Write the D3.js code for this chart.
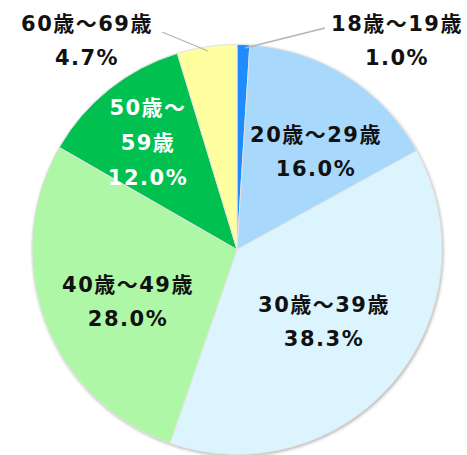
<!DOCTYPE html>
<html>
<head>
<meta charset="utf-8">
<script src="https://cdn.jsdelivr.net/npm/d3@7"></script>
<style>
html,body{margin:0;padding:0;background:#fff;}
svg{display:block;}
text{font-family:"DejaVu Sans","Noto Sans CJK JP",sans-serif;font-weight:bold;font-size:21px;letter-spacing:1.5px;}
</style>
</head>
<body>
<svg id="chart" width="467" height="455"></svg>
<script>
const categories = ["18歳～19歳","20歳～29歳","30歳～39歳","40歳～49歳","50歳～59歳","60歳～69歳"];
const values = [1.0, 16.0, 38.3, 28.0, 12.0, 4.7];
const valueLabels = ["1.0%","16.0%","38.3%","28.0%","12.0%","4.7%"];
const colors = ["#1e8cff","#a8d8fb","#dcf4fd","#aef7a6","#00c050","#ffff9f"];
const labelLines = [
  ["18歳～19歳","1.0%"],
  ["20歳～29歳","16.0%"],
  ["30歳～39歳","38.3%"],
  ["40歳～49歳","28.0%"],
  ["50歳～","59歳","12.0%"],
  ["60歳～69歳","4.7%"]
];
const textColors = ["#111","#111","#111","#111","#fff","#111"];

const svg = d3.select("#chart");
const cx = 237, cy = 249.5, R = 205;

const defs = svg.append("defs");
const f = defs.append("filter").attr("id","sh").attr("x","-10%").attr("y","-10%").attr("width","120%").attr("height","120%");
f.append("feGaussianBlur").attr("stdDeviation",1.5);

const g = svg.append("g").attr("transform",`translate(${cx},${cy})`);
g.append("circle").attr("r",R+0.5).attr("cx",1).attr("cy",1.5).attr("fill","#bbb").attr("filter","url(#sh)");

const pie = d3.pie().sort(null).value(d=>d)(values);
const arc = d3.arc().innerRadius(0).outerRadius(R);
g.selectAll("path.slice").data(pie).join("path")
  .attr("class","slice")
  .attr("d",arc)
  .attr("fill",(d,i)=>colors[i])
  .attr("stroke","#e4e4e4")
  .attr("stroke-width",1);

const labelPos = [[397,23],[316,134],[324,304],[128,284],[148,107],[87,23]];
const lineGap = [34,34,34,34,35,34];

labelLines.forEach((lines,i)=>{
  const t = svg.append("text")
    .attr("text-anchor","middle")
    .attr("fill",textColors[i]);
  lines.forEach((ln,j)=>{
    t.append("tspan")
      .attr("x",labelPos[i][0])
      .attr("y",labelPos[i][1]+j*lineGap[i])
      .attr("dy","0.36em")
      .text(ln);
  });
});

const leaders = [
  {i:0, from:[325,28], to:[245,48]},
  {i:5, from:[162,32], to:[208,51]}
];
leaders.forEach(l=>{
  svg.append("line")
    .attr("x1",l.from[0]).attr("y1",l.from[1])
    .attr("x2",l.to[0]).attr("y2",l.to[1])
    .attr("stroke","#b4b4b4").attr("stroke-width",1.3);
});
</script>
</body>
</html>
